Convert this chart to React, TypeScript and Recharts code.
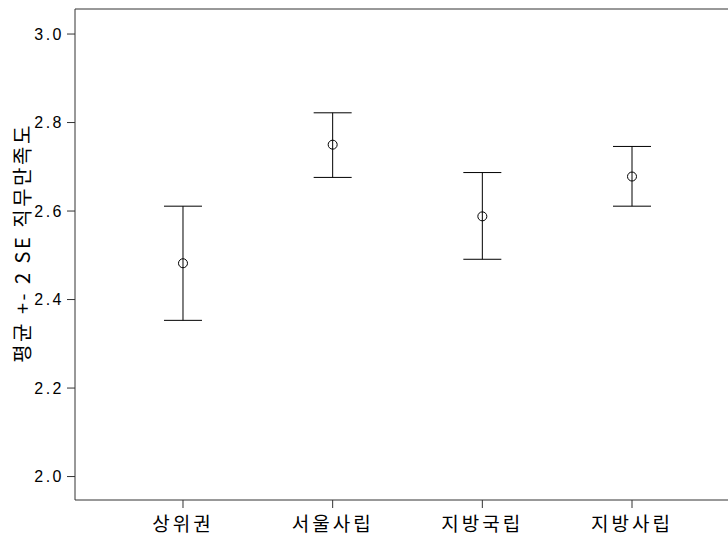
import {
  ErrorBar,
  Scatter,
  ScatterChart,
  XAxis,
  YAxis
} from "recharts";

const groups = ["상위권", "서울사립", "지방국립", "지방사립"];
const means = [2.482, 2.75, 2.588, 2.678];
const lowers = [2.353, 2.676, 2.491, 2.611];
const uppers = [2.611, 2.822, 2.687, 2.746];
const yTicks = [2.0, 2.2, 2.4, 2.6, 2.8, 3.0];

const data = groups.map((g, i) => ({
  pos: i,
  name: g,
  mean: means[i],
  err: [means[i] - lowers[i], uppers[i] - means[i]]
}));

const lineColor = "#333";
const tickFont = "'Liberation Sans', Arial, sans-serif";
const koFont = "'Noto Sans CJK KR', 'Noto Sans', sans-serif";

function Ring({ cx, cy }: { cx?: number; cy?: number }) {
  if (cx == null || cy == null) return null;
  return <circle cx={cx} cy={cy} r={4.5} fill="none" stroke="#000" strokeWidth={1} />;
}

function YLabel() {
  return (
    <text
      x={21}
      y={243}
      transform="rotate(-90 21 243)"
      textAnchor="middle"
      dominantBaseline="central"
      fontSize={20}
      letterSpacing={2.5}
      fontFamily={koFont}
      fill="#000"
    >
      평균 +- 2 SE 직무만족도
    </text>
  );
}

export default function App() {
  return (
    <div
      style={{
        position: "absolute",
        left: 0,
        top: 0,
        width: 728,
        height: 540,
        overflow: "hidden",
        background: "#fff"
      }}
    >
      <ScatterChart
        width={760}
        height={540}
        margin={{ top: 8, right: 20, bottom: 0, left: 0 }}
      >
        <XAxis
          xAxisId="top"
          orientation="top"
          type="number"
          dataKey="pos"
          domain={[-0.7216, 3.7216]}
          tick={false}
          tickLine={false}
          height={1}
          axisLine={{ stroke: lineColor }}
        />
        <XAxis
          type="number"
          dataKey="pos"
          domain={[-0.7216, 3.7216]}
          ticks={[0, 1, 2, 3]}
          tickFormatter={(v: number) => groups[v] ?? ""}
          height={40}
          tickSize={8}
          tickMargin={10}
          axisLine={{ stroke: lineColor }}
          tickLine={{ stroke: lineColor }}
          tick={{ fontSize: 19, fill: "#000", fontFamily: koFont, letterSpacing: 3 }}
        />
        <YAxis
          type="number"
          dataKey="mean"
          domain={[1.947, 3.0566]}
          ticks={yTicks}
          allowDataOverflow
          tickFormatter={(v: number) => v.toFixed(1)}
          width={75}
          tickSize={8}
          tickMargin={3}
          axisLine={{ stroke: lineColor }}
          tickLine={{ stroke: lineColor }}
          tick={{ fontSize: 16, fill: "#000", fontFamily: tickFont, letterSpacing: 2.5 }}
          label={{ content: () => <YLabel /> }}
        />
        <Scatter
          data={data}
          dataKey="mean"
          shape={<Ring />}
          isAnimationActive={false}
        >
          <ErrorBar
            dataKey="err"
            direction="y"
            width={19}
            stroke="#000"
            strokeWidth={1}
            isAnimationActive={false}
          />
        </Scatter>
      </ScatterChart>
    </div>
  );
}
